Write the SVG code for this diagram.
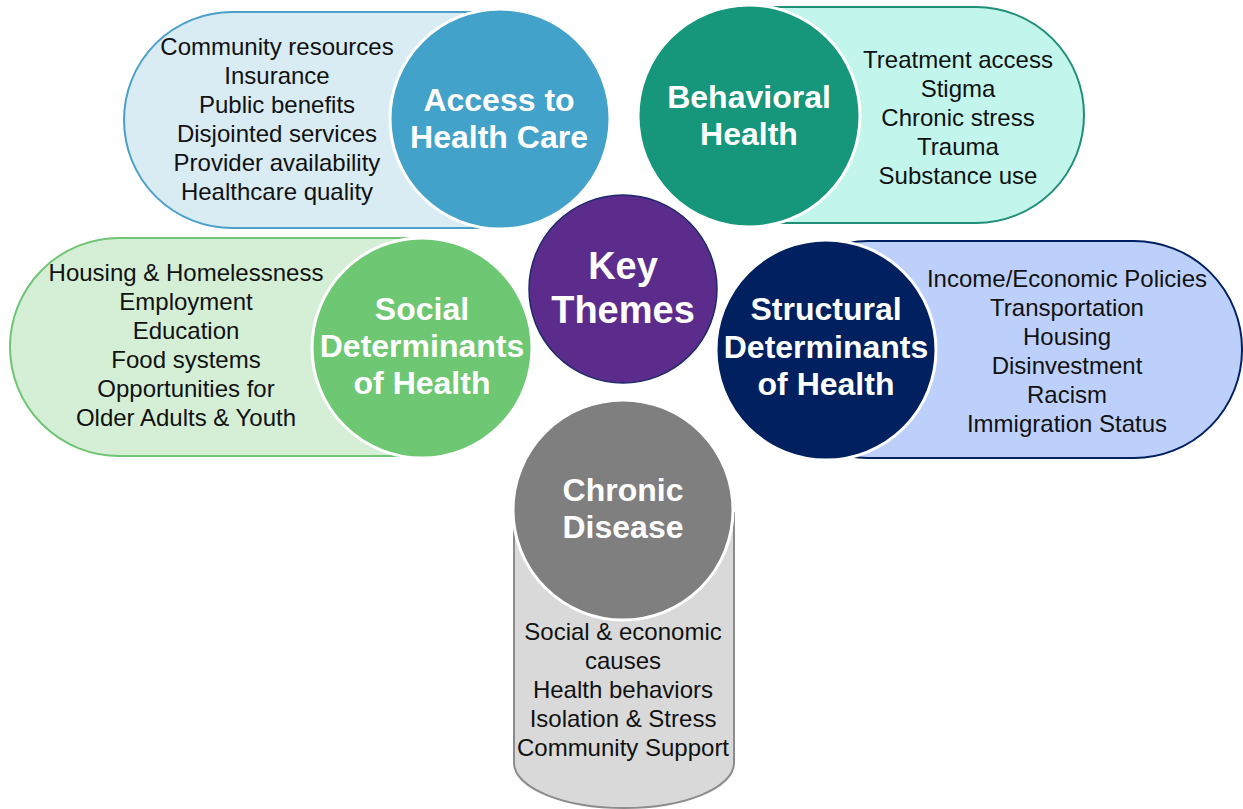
<svg xmlns="http://www.w3.org/2000/svg" width="1243" height="809" viewBox="0 0 1243 809">
  <style>
    .item { font-family: "Liberation Sans", Arial, sans-serif; font-size: 24px; fill: #111; text-anchor: middle; }
    .title { font-family: "Liberation Sans", Arial, sans-serif; font-size: 32px; font-weight: bold; fill: #fff; text-anchor: middle; }
    .key { font-family: "Liberation Sans", Arial, sans-serif; font-size: 38px; font-weight: bold; fill: #fff; text-anchor: middle; }
    .hub { stroke: #fff; stroke-width: 3; }
    .pill { stroke-width: 2; }
  </style>
  <rect width="1243" height="809" fill="#fff"/>

  <!-- Access to Health Care -->
  <g id="access">
    <rect class="pill" x="124" y="12" width="480" height="216" rx="108" ry="108" fill="#d9ebf3" stroke="#4a9fcb"/>
    <circle class="hub" cx="500" cy="119" r="110" fill="#43a2c9"/>
    <text class="title" x="499" y="111">Access to</text>
    <text class="title" x="499" y="148">Health Care</text>
    <text class="item" x="277" y="55">Community resources</text>
    <text class="item" x="277" y="84">Insurance</text>
    <text class="item" x="277" y="113">Public benefits</text>
    <text class="item" x="277" y="142">Disjointed services</text>
    <text class="item" x="277" y="171">Provider availability</text>
    <text class="item" x="277" y="200">Healthcare quality</text>
  </g>

  <!-- Behavioral Health -->
  <g id="behavioral">
    <rect class="pill" x="660" y="7" width="424" height="216" rx="108" ry="108" fill="#c2f5ec" stroke="#1f8f78"/>
    <circle class="hub" cx="749" cy="116" r="111" fill="#16967a"/>
    <text class="title" x="749" y="108">Behavioral</text>
    <text class="title" x="749" y="145">Health</text>
    <text class="item" x="958" y="68">Treatment access</text>
    <text class="item" x="958" y="97">Stigma</text>
    <text class="item" x="958" y="126">Chronic stress</text>
    <text class="item" x="958" y="155">Trauma</text>
    <text class="item" x="958" y="184">Substance use</text>
  </g>

  <!-- Social Determinants of Health -->
  <g id="social">
    <rect class="pill" x="10" y="238" width="500" height="218" rx="109" ry="109" fill="#d4efd5" stroke="#6fc475"/>
    <circle class="hub" cx="422" cy="348" r="110" fill="#6ec873"/>
    <text class="title" x="422" y="320">Social</text>
    <text class="title" x="422" y="357">Determinants</text>
    <text class="title" x="422" y="394">of Health</text>
    <text class="item" x="186" y="281">Housing &amp; Homelessness</text>
    <text class="item" x="186" y="310">Employment</text>
    <text class="item" x="186" y="339">Education</text>
    <text class="item" x="186" y="368">Food systems</text>
    <text class="item" x="186" y="397">Opportunities for</text>
    <text class="item" x="186" y="426">Older Adults &amp; Youth</text>
  </g>

  <!-- Structural Determinants of Health -->
  <g id="structural">
    <rect class="pill" x="760" y="241" width="482" height="217" rx="108" ry="108" fill="#bdd0fc" stroke="#002060"/>
    <circle class="hub" cx="826" cy="350" r="110" fill="#002060"/>
    <text class="title" x="826" y="320">Structural</text>
    <text class="title" x="826" y="358">Determinants</text>
    <text class="title" x="826" y="395">of Health</text>
    <text class="item" x="1067" y="287">Income/Economic Policies</text>
    <text class="item" x="1067" y="316">Transportation</text>
    <text class="item" x="1067" y="345">Housing</text>
    <text class="item" x="1067" y="374">Disinvestment</text>
    <text class="item" x="1067" y="403">Racism</text>
    <text class="item" x="1067" y="432">Immigration Status</text>
  </g>

  <!-- Chronic Disease -->
  <g id="chronic">
    <path class="pill" d="M514,512 L514,763 A110,45 0 0 0 734,763 L734,512" fill="#d9d9d9" stroke="#8c8c8c"/>
    <circle class="hub" cx="623" cy="510" r="110" fill="#7f7f7f"/>
    <text class="title" x="623" y="501">Chronic</text>
    <text class="title" x="623" y="538">Disease</text>
    <text class="item" x="623" y="640">Social &amp; economic</text>
    <text class="item" x="623" y="669">causes</text>
    <text class="item" x="623" y="698">Health behaviors</text>
    <text class="item" x="623" y="727">Isolation &amp; Stress</text>
    <text class="item" x="623" y="756">Community Support</text>
  </g>

  <!-- Key Themes hub -->
  <g id="key-themes">
    <circle cx="623" cy="289" r="96" fill="#fff"/>
    <circle cx="623" cy="289" r="94" fill="#5b2c8c" stroke="#1f2a6b" stroke-width="1.5"/>
    <text class="key" x="623" y="279">Key</text>
    <text class="key" x="623" y="323">Themes</text>
  </g>

  <g id="connectors"/>
</svg>
